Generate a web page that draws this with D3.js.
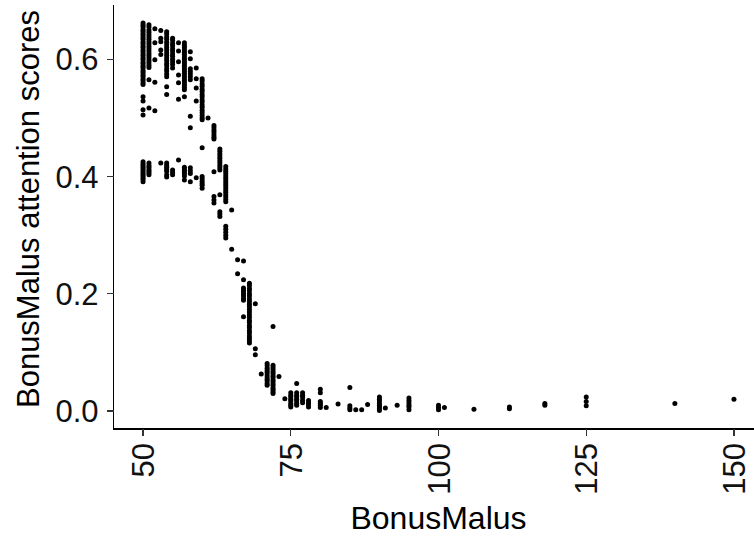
<!DOCTYPE html>
<html>
<head>
    <meta charset="utf-8">
    <title>BonusMalus attention scores</title>
    <style>
        body {
            margin: 0;
            background: #fff;
            font-family: "Liberation Sans", Arial, sans-serif;
        }

        .axis-line {
            stroke: #000;
            stroke-width: 1.1;
            shape-rendering: crispEdges;
        }

        .tick-mark {
            stroke: #333;
            stroke-width: 1.1;
            shape-rendering: crispEdges;
        }

        .tick-label {
            font-size: 31px;
            fill: #111;
        }

        .axis-title {
            font-size: 32px;
            fill: #000;
        }

        .y-title {
            font-size: 31px;
        }

        .dot {
            fill: #000;
        }
    </style>
    <script src="https://d3js.org/d3.v7.min.js"></script>
</head>

<body>

<script type="text/javascript">
    // BonusMalus levels and the attention scores observed at each level
    var bonusMalus = [50, 51, 52, 53, 54, 55, 56, 57, 58, 59,
                      60, 61, 62, 63, 64, 65, 66, 67, 68, 69,
                      70, 71, 72, 73, 74, 75, 76, 77, 78, 80,
                      81, 83, 85, 86, 87, 88, 90, 91, 93, 95,
                      100, 101, 106, 112, 118, 125, 140, 150];

    var scores = [
        [0.662, 0.658, 0.655, 0.651, 0.648, 0.644, 0.641, 0.637, 0.634, 0.630, 0.627, 0.623, 0.620, 0.616, 0.613, 0.609,
         0.606, 0.602, 0.599, 0.595, 0.592, 0.588, 0.585, 0.581, 0.578, 0.574, 0.571, 0.567, 0.564, 0.560, 0.557,
         0.536, 0.529, 0.514, 0.505,
         0.425, 0.422, 0.419, 0.416, 0.413, 0.410, 0.407, 0.404, 0.401, 0.398, 0.395, 0.391],
        [0.659, 0.655, 0.650, 0.646, 0.642, 0.638, 0.634, 0.630, 0.626, 0.622, 0.618, 0.614, 0.610, 0.606, 0.602,
         0.598, 0.594, 0.590, 0.586, 0.565, 0.517, 0.423, 0.419, 0.416, 0.412, 0.409, 0.406, 0.403],
        [0.652, 0.628, 0.599, 0.561, 0.512],
        [0.649, 0.636, 0.630, 0.616, 0.608, 0.423],
        [0.647, 0.643, 0.638, 0.634, 0.629, 0.625, 0.620, 0.616, 0.611, 0.607, 0.602, 0.598, 0.593, 0.589, 0.584,
         0.580, 0.575, 0.570, 0.553, 0.540, 0.423, 0.419, 0.416, 0.412, 0.409, 0.403, 0.399],
        [0.636, 0.632, 0.627, 0.623, 0.618, 0.614, 0.609, 0.605, 0.600, 0.596, 0.591, 0.585, 0.411, 0.407, 0.403],
        [0.628, 0.614, 0.596, 0.573, 0.560, 0.532, 0.428],
        [0.628, 0.624, 0.620, 0.616, 0.612, 0.608, 0.604, 0.600, 0.596, 0.592, 0.588, 0.584, 0.580, 0.576, 0.572,
         0.568, 0.564, 0.560, 0.556, 0.552, 0.548, 0.536, 0.416, 0.412, 0.409, 0.405, 0.401, 0.394],
        [0.613, 0.601, 0.584, 0.579, 0.575, 0.570, 0.565, 0.503, 0.483, 0.415, 0.410, 0.405, 0.391],
        [0.585, 0.567, 0.551, 0.529, 0.398],
        [0.567, 0.563, 0.558, 0.554, 0.549, 0.545, 0.540, 0.536, 0.531, 0.527, 0.522, 0.518, 0.513, 0.509, 0.504,
         0.500, 0.497, 0.449, 0.400, 0.396, 0.392, 0.388, 0.385, 0.380],
        [0.500],
        [0.487, 0.483, 0.479, 0.475, 0.471, 0.467, 0.464, 0.408, 0.366, 0.360, 0.355],
        [0.447, 0.443, 0.439, 0.435, 0.431, 0.427, 0.423, 0.419, 0.415, 0.411, 0.369, 0.340, 0.336, 0.332],
        [0.417, 0.413, 0.409, 0.405, 0.401, 0.397, 0.393, 0.389, 0.385, 0.381, 0.377, 0.373, 0.369, 0.365, 0.361,
         0.357, 0.315, 0.310, 0.305, 0.300, 0.295],
        [0.343, 0.276],
        [0.258, 0.234],
        [0.256, 0.224, 0.210, 0.206, 0.203, 0.199, 0.196, 0.192, 0.189, 0.161],
        [0.218, 0.214, 0.209, 0.205, 0.200, 0.196, 0.191, 0.187, 0.182, 0.178, 0.173, 0.169, 0.164, 0.160, 0.155,
         0.151, 0.146, 0.142, 0.137, 0.133, 0.128, 0.124, 0.120, 0.116],
        [0.183, 0.106, 0.096],
        [0.063],
        [0.081, 0.077, 0.073, 0.069, 0.066, 0.062, 0.058, 0.054, 0.051, 0.047, 0.044],
        [0.144, 0.078, 0.074, 0.071, 0.067, 0.064, 0.060, 0.057, 0.053, 0.050, 0.046, 0.043, 0.039, 0.036, 0.033, 0.030],
        [0.059],
        [0.021],
        [0.031, 0.027, 0.024, 0.020, 0.017, 0.013, 0.010, 0.007],
        [0.047, 0.031, 0.027, 0.024, 0.020, 0.017, 0.013, 0.010],
        [0.031, 0.027, 0.023, 0.018, 0.014],
        [0.018, 0.014, 0.011, 0.007],
        [0.037, 0.031, 0.016, 0.013, 0.010, 0.006],
        [0.006],
        [0.012],
        [0.040, 0.009, 0.005, 0.002],
        [0.002],
        [0.002],
        [0.011],
        [0.024, 0.020, 0.017, 0.013, 0.010, 0.007, 0.004, 0.001],
        [0.005],
        [0.010],
        [0.022, 0.018, 0.014, 0.010, 0.007, 0.002],
        [0.010, 0.006, 0.002],
        [0.006],
        [0.003],
        [0.007, 0.004],
        [0.013, 0.010],
        [0.024, 0.016, 0.009],
        [0.013],
        [0.020]
    ];

    var xTicks = [50, 75, 100, 125, 150];
    var yTicks = [0.0, 0.2, 0.4, 0.6];

    var xTitle = "BonusMalus",
        yTitle = "BonusMalus attention scores";

    // panel edges in pixels (the panel runs past the right edge of the picture)
    var width = 754, height = 538,
        panelLeft = 113.5, panelTop = 5, panelBottom = 429, panelRight = 763.5,
        tickLen = 7;

    var points = [];
    bonusMalus.forEach(function (bm, i) {
        scores[i].forEach(function (s) {
            points.push({x: bm, y: s});
        });
    });

    var x = d3.scaleLinear().domain([45, 155]).range([panelLeft, panelRight]);
    var y = d3.scaleLinear().domain([-0.0307, 0.6926]).range([panelBottom, panelTop]);

    var svg = d3.select("body").append("svg")
            .attr("width", width)
            .attr("height", height);

    // points
    svg.append("g")
            .selectAll("circle")
            .data(points)
            .enter()
            .append("circle")
            .attr("class", "dot")
            .attr("cx", function (d) { return x(d.x); })
            .attr("cy", function (d) { return y(d.y); })
            .attr("r", 2.5);

    // axis lines
    svg.append("line")
            .attr("class", "axis-line")
            .attr("x1", panelLeft).attr("x2", panelLeft)
            .attr("y1", panelTop).attr("y2", panelBottom + 0.5);

    svg.append("line")
            .attr("class", "axis-line")
            .attr("x1", panelLeft - 0.5).attr("x2", panelRight)
            .attr("y1", panelBottom).attr("y2", panelBottom);

    // y ticks
    var yG = svg.append("g");
    yG.selectAll("line")
            .data(yTicks)
            .enter()
            .append("line")
            .attr("class", "tick-mark")
            .attr("x1", panelLeft - tickLen).attr("x2", panelLeft)
            .attr("y1", function (d) { return y(d); })
            .attr("y2", function (d) { return y(d); });

    yG.selectAll("text")
            .data(yTicks)
            .enter()
            .append("text")
            .attr("class", "tick-label")
            .attr("x", panelLeft - tickLen - 8)
            .attr("y", function (d) { return y(d); })
            .attr("dy", "0.36em")
            .attr("text-anchor", "end")
            .text(function (d) { return d3.format(".1f")(d); });

    // x ticks, labels rotated
    var xG = svg.append("g");
    xG.selectAll("line")
            .data(xTicks)
            .enter()
            .append("line")
            .attr("class", "tick-mark")
            .attr("x1", function (d) { return x(d); })
            .attr("x2", function (d) { return x(d); })
            .attr("y1", panelBottom).attr("y2", panelBottom + tickLen);

    xG.selectAll("text")
            .data(xTicks)
            .enter()
            .append("text")
            .attr("class", "tick-label")
            .attr("transform", function (d) {
                return "translate(" + x(d) + "," + (panelBottom + tickLen + 7) + ") rotate(-90)";
            })
            .attr("dy", "0.36em")
            .attr("text-anchor", "end")
            .text(function (d) { return d; });

    // titles
    svg.append("text")
            .attr("class", "axis-title")
            .attr("x", (panelLeft + panelRight) / 2)
            .attr("y", 529)
            .attr("text-anchor", "middle")
            .text(xTitle);

    svg.append("text")
            .attr("class", "axis-title y-title")
            .attr("transform", "translate(39,209) rotate(-90)")
            .attr("text-anchor", "middle")
            .text(yTitle);
</script>

</body>

</html>
